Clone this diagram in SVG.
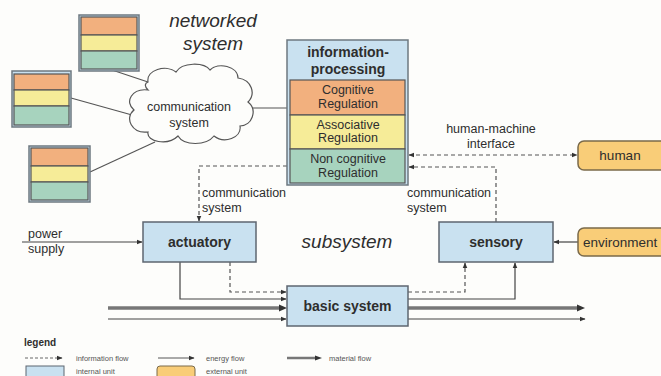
<svg xmlns="http://www.w3.org/2000/svg" width="661" height="376" viewBox="0 0 661 376">
<style>
text{font-family:"Liberation Sans",Arial,sans-serif;fill:#2e2e2e}
.b{font-weight:bold;font-size:14px}
.r{font-size:12.5px}
.ext{font-size:13.5px}
.it{font-style:italic;font-size:19px}
.lg{font-size:7.5px;fill:#555}
.int{fill:#c9e1f0;stroke:#5d6670;stroke-width:1.5}
.ex{fill:#f9cd78;stroke:#7a6a4a;stroke-width:1.5}
.og{fill:#f2b07e;stroke:#555;stroke-width:1.2}
.yl{fill:#f6ec98;stroke:#555;stroke-width:1.2}
.gr{fill:#a7d3be;stroke:#555;stroke-width:1.2}
.fr{fill:#c9e1f0;stroke:#6d7880;stroke-width:1.5}
.sol{fill:none;stroke:#444;stroke-width:1.2}
.dash{fill:none;stroke:#555;stroke-width:1.2;stroke-dasharray:4 3}
.mat{fill:none;stroke:#777;stroke-width:3.5}
.ln{fill:none;stroke:#555;stroke-width:1.2}
</style>
<defs>
<marker id="ah" viewBox="0 0 10 10" refX="9" refY="5" markerWidth="6" markerHeight="6" orient="auto-start-reverse" markerUnits="userSpaceOnUse">
<path d="M0,1 L10,5 L0,9 z" fill="#333"/>
</marker>
</defs>
<rect width="661" height="376" fill="#fdfdfb"/>

<text class="it" x="213" y="27" text-anchor="middle">networked</text>
<text class="it" x="213" y="50" text-anchor="middle">system</text>
<text class="it" x="347" y="248" text-anchor="middle">subsystem</text>

<g id="connectors">
<line class="ln" x1="112" y1="70" x2="160" y2="86"/>
<line class="ln" x1="71" y1="98" x2="150" y2="120"/>
<line class="ln" x1="90" y1="172" x2="155" y2="142"/>
<line class="ln" x1="240" y1="108" x2="287" y2="108"/>
<polyline class="dash" points="287,166 199,166 199,221" marker-end="url(#ah)"/>
<polyline class="dash" points="496,222 496,167 409,167" marker-end="url(#ah)"/>
<line class="dash" x1="409" y1="155" x2="577" y2="155" marker-start="url(#ah)" marker-end="url(#ah)"/>
<line class="sol" x1="22" y1="242" x2="142" y2="242" marker-end="url(#ah)"/>
<line class="sol" x1="578" y1="242" x2="554" y2="242" marker-end="url(#ah)"/>
<polyline class="sol" points="180,262 180,299 286,299" marker-end="url(#ah)"/>
<polyline class="dash" points="230,262 230,292 286,292" marker-end="url(#ah)"/>
<polyline class="dash" points="408,292 465,292 465,263" marker-end="url(#ah)"/>
<polyline class="sol" points="408,299 515,299 515,263" marker-end="url(#ah)"/>
<line class="mat" x1="108" y1="308" x2="280" y2="308"/>
<path d="M279,304.5 L287,308 L279,311.5 z" fill="#333"/>
<line class="sol" x1="108" y1="319" x2="286" y2="319" marker-end="url(#ah)"/>
<line class="mat" x1="408" y1="308" x2="578" y2="308"/>
<path d="M577,304.5 L585,308 L577,311.5 z" fill="#333"/>
<line class="sol" x1="408" y1="319" x2="585" y2="319" marker-end="url(#ah)"/>
<text class="r" x="202" y="197">communication</text>
<text class="r" x="202" y="212">system</text>
<text class="r" x="407" y="197">communication</text>
<text class="r" x="407" y="212">system</text>
<text class="r" x="491" y="133" text-anchor="middle">human-machine</text>
<text class="r" x="491" y="148" text-anchor="middle">interface</text>
<text class="r" x="28" y="238">power</text>
<text class="r" x="28" y="253">supply</text>
</g>

<g id="node-top">
<rect class="fr" x="79" y="15" width="60" height="56"/>
<rect class="og" x="81" y="17" width="56" height="18"/>
<rect class="yl" x="81" y="35" width="56" height="16"/>
<rect class="gr" x="81" y="51" width="56" height="18"/>
</g>
<g id="node-left">
<rect class="fr" x="12" y="71" width="59" height="56"/>
<rect class="og" x="14" y="74" width="55" height="16"/>
<rect class="yl" x="14" y="90" width="55" height="16"/>
<rect class="gr" x="14" y="106" width="55" height="19"/>
</g>
<g id="node-bottom">
<rect class="fr" x="29" y="146" width="61" height="56"/>
<rect class="og" x="31" y="148" width="57" height="18"/>
<rect class="yl" x="31" y="166" width="57" height="16"/>
<rect class="gr" x="31" y="182" width="57" height="18"/>
</g>

<g id="cloud">
<path d="M148,82 C146,70 166,64 176,72 C182,62 204,62 210,70 C218,62 238,66 238,78 C252,80 256,94 248,102 C258,110 252,126 240,126 C242,138 224,144 214,136 C206,146 184,146 178,136 C168,146 146,142 148,132 C132,134 124,118 134,110 C124,102 132,88 148,90 C144,86 145,83 148,82 Z" fill="#fdfdfb" stroke="#555" stroke-width="1.2"/>
<text class="r" x="189" y="111" text-anchor="middle">communication</text>
<text class="r" x="189" y="127" text-anchor="middle">system</text>
</g>

<g id="info">
<rect class="fr" x="287" y="40" width="121" height="145"/>
<rect class="og" x="290" y="80" width="115" height="35"/>
<rect class="yl" x="290" y="115" width="115" height="34"/>
<rect class="gr" x="290" y="149" width="115" height="34"/>
<text class="b" x="348" y="57" text-anchor="middle">information-</text>
<text class="b" x="348" y="74" text-anchor="middle">processing</text>
<text class="r" x="348" y="94" text-anchor="middle">Cognitive</text>
<text class="r" x="348" y="108" text-anchor="middle">Regulation</text>
<text class="r" x="348" y="129" text-anchor="middle">Associative</text>
<text class="r" x="348" y="142" text-anchor="middle">Regulation</text>
<text class="r" x="348" y="163" text-anchor="middle">Non cognitive</text>
<text class="r" x="348" y="177" text-anchor="middle">Regulation</text>
</g>

<g id="human">
<rect class="ex" x="578" y="141" width="92" height="29" rx="6"/>
<text class="ext" x="620" y="160" text-anchor="middle">human</text>
</g>
<g id="environment">
<rect class="ex" x="578" y="228" width="92" height="28" rx="6"/>
<text class="ext" x="583" y="247">environment</text>
</g>
<g id="actuatory">
<rect class="int" x="143" y="222" width="113" height="40"/>
<text class="b" x="199.5" y="247" text-anchor="middle">actuatory</text>
</g>
<g id="sensory">
<rect class="int" x="439" y="222" width="114" height="40"/>
<text class="b" x="496" y="247" text-anchor="middle">sensory</text>
</g>
<g id="basic">
<rect class="int" x="287" y="286" width="121" height="40"/>
<text class="b" x="347.5" y="311" text-anchor="middle">basic system</text>
</g>

<g id="legend">
<text x="24" y="346" style="font-weight:bold;font-size:10px">legend</text>
<line class="dash" x1="25" y1="358" x2="62" y2="358" style="stroke-width:0.9;stroke-dasharray:3 2" marker-end="url(#ah)"/>
<text class="lg" x="76" y="361">information flow</text>
<line class="sol" x1="158" y1="358" x2="194" y2="358" style="stroke-width:0.9" marker-end="url(#ah)"/>
<text class="lg" x="206" y="361">energy flow</text>
<line class="mat" x1="287" y1="358" x2="316" y2="358" style="stroke-width:2.5"/>
<path d="M315,355.5 L322,358 L315,360.5 z" fill="#333"/>
<text class="lg" x="329" y="361">material flow</text>
<rect class="int" x="26" y="366" width="38" height="14" style="stroke-width:1"/>
<text class="lg" x="76" y="374">internal unit</text>
<rect class="ex" x="157" y="366" width="38" height="14" rx="3" style="stroke-width:1"/>
<text class="lg" x="206" y="374">external unit</text>
</g>
</svg>
